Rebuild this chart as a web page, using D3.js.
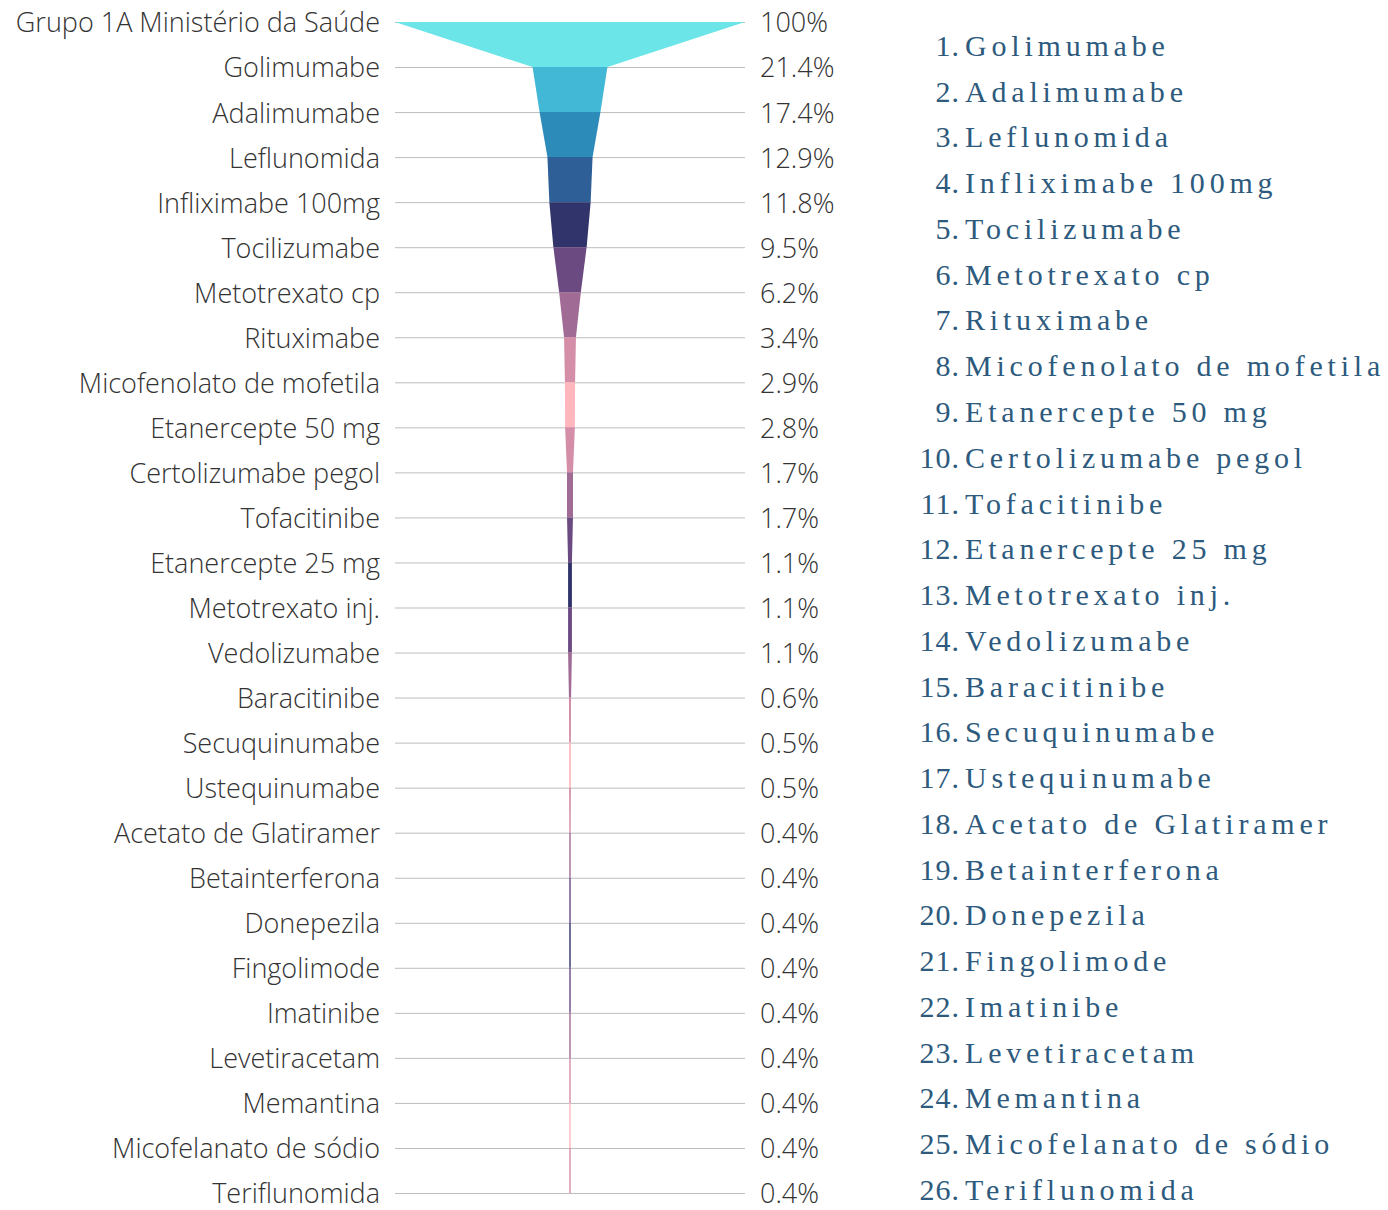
<!DOCTYPE html>
<html>
<head>
<meta charset="utf-8">
<script src="https://cdn.jsdelivr.net/npm/d3@7"></script>
<style>
  body { margin: 0; background: #fff; }
  svg { display: block; }
</style>
</head>
<body>
<script>
// funnel data
const stages = ["Grupo 1A Ministério da Saúde", "Golimumabe", "Adalimumabe", "Leflunomida",
  "Infliximabe 100mg", "Tocilizumabe", "Metotrexato cp", "Rituximabe", "Micofenolato de mofetila",
  "Etanercepte 50 mg", "Certolizumabe pegol", "Tofacitinibe", "Etanercepte 25 mg",
  "Metotrexato inj.", "Vedolizumabe", "Baracitinibe", "Secuquinumabe", "Ustequinumabe",
  "Acetato de Glatiramer", "Betainterferona", "Donepezila", "Fingolimode", "Imatinibe",
  "Levetiracetam", "Memantina", "Micofelanato de sódio", "Teriflunomida"]
const values = [100, 21.4, 17.4, 12.9, 11.8, 9.5, 6.2, 3.4, 2.9, 2.8, 1.7, 1.7, 1.1, 1.1, 1.1,
  0.6, 0.5, 0.5, 0.4, 0.4, 0.4, 0.4, 0.4, 0.4, 0.4, 0.4, 0.4]
const pctLabels = ["100%", "21.4%", "17.4%", "12.9%", "11.8%", "9.5%", "6.2%", "3.4%", "2.9%",
  "2.8%", "1.7%", "1.7%", "1.1%", "1.1%", "1.1%", "0.6%", "0.5%", "0.5%", "0.4%", "0.4%",
  "0.4%", "0.4%", "0.4%", "0.4%", "0.4%", "0.4%", "0.4%"]
// one colour per segment (between two stages)
const segColors = ["#6be5e8", "#42b8d6", "#2d8bb9", "#2e5f97", "#30346b", "#6b4a82", "#a06b95",
  "#d48ea8", "#ffb6bd", "#d48ea8", "#a06b95", "#6b4a82", "#30346b", "#6b4a82", "#a06b95",
  "#d48ea8", "#ffb6bd", "#d48ea8", "#a06b95", "#6b4a82", "#30346b", "#6b4a82", "#a06b95",
  "#d48ea8", "#ffb6bd", "#d48ea8"]
// ranking list on the right
const ranking = stages.slice(1)

const w = 1388
const h = 1210
const cx = 570

const svg = d3.select("body").append("svg")
  .attr("width", w)
  .attr("height", h)

const y = d3.scalePoint().domain(stages).range([22, 1193])
const width = d3.scaleLinear().domain([0, 100]).range([0, 350])

// grid lines
svg.append("g")
  .selectAll("line")
  .data(stages)
  .enter()
  .append("line")
  .attr("x1", 395)
  .attr("x2", 745)
  .attr("y1", d => y(d) + 0.5)
  .attr("y2", d => y(d) + 0.5)
  .attr("stroke", "#bdbdbd")
  .attr("stroke-width", 1)

// funnel segments
const segs = d3.range(stages.length - 1)
svg.append("g")
  .selectAll("path")
  .data(segs)
  .enter()
  .append("path")
  .attr("d", i => {
    const y0 = y(stages[i]), y1 = y(stages[i + 1])
    const w0 = width(values[i]) / 2, w1 = width(values[i + 1]) / 2
    return `M${cx - w0},${y0}L${cx + w0},${y0}L${cx + w1},${y1}L${cx - w1},${y1}Z`
  })
  .attr("fill", i => segColors[i])

// stage labels
svg.append("g")
  .selectAll("text")
  .data(stages)
  .enter()
  .append("text")
  .attr("x", 380)
  .attr("y", d => y(d) + 1)
  .attr("dy", "0.35em")
  .attr("text-anchor", "end")
  .style("font-family", "'Open Sans', sans-serif")
  .style("font-weight", 300)
  .style("font-size", "27px")
  .style("fill", "#333")
  .text(d => d)

// percent labels
svg.append("g")
  .selectAll("text")
  .data(stages)
  .enter()
  .append("text")
  .attr("x", 760)
  .attr("y", d => y(d) + 1)
  .attr("dy", "0.35em")
  .style("font-family", "'Open Sans', sans-serif")
  .style("font-weight", 300)
  .style("font-size", "27px")
  .style("fill", "#333")
  .text((d, i) => pctLabels[i])

// numbered list
const ry = d3.scalePoint().domain(ranking).range([46, 1190])
const list = svg.append("g")
  .style("font-family", "'Liberation Serif', serif")
  .style("font-size", "30px")
  .style("fill", "#2d5a7d")

list.selectAll("text.num")
  .data(ranking)
  .enter()
  .append("text")
  .attr("class", "num")
  .attr("x", 960)
  .attr("y", d => ry(d))
  .attr("dy", "0.33em")
  .attr("text-anchor", "end")
  .style("letter-spacing", "1px")
  .text((d, i) => (i + 1) + ".")

list.selectAll("text.name")
  .data(ranking)
  .enter()
  .append("text")
  .attr("class", "name")
  .attr("x", 965)
  .attr("y", d => ry(d))
  .attr("dy", "0.33em")
  .style("letter-spacing", "4.8px")
  .text(d => d)
</script>
</body>
</html>
